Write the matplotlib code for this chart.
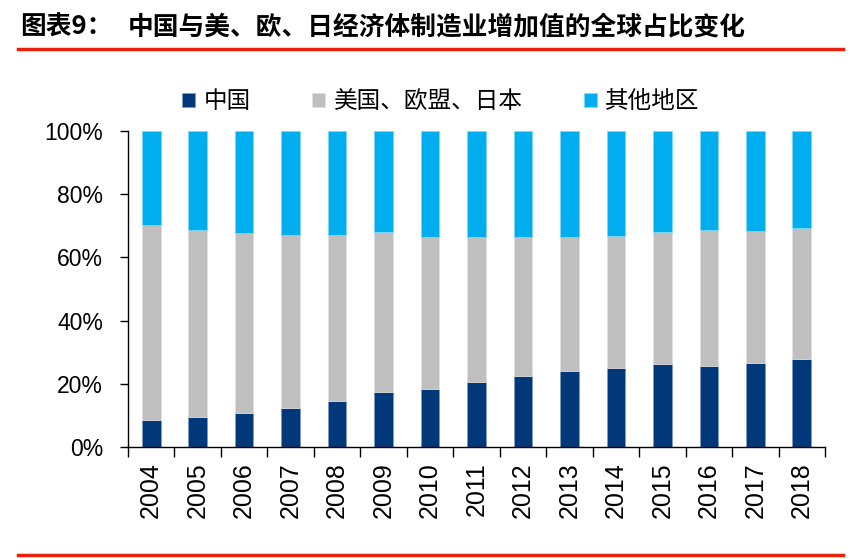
import numpy as np
import matplotlib
matplotlib.use("Agg")
import matplotlib.pyplot as plt
from matplotlib.lines import Line2D

plt.rcParams['font.family'] = ['Liberation Sans', 'Noto Sans CJK SC', 'DejaVu Sans']

# 数据（从图上估读，单位 %）
years = ["2004", "2005", "2006", "2007", "2008", "2009", "2010", "2011",
         "2012", "2013", "2014", "2015", "2016", "2017", "2018"]
china = [8.5, 9.6, 10.9, 12.2, 14.5, 17.3, 18.2, 20.7,
         22.5, 23.9, 25.1, 26.3, 25.7, 26.5, 27.7]
us_eu_jp_top = [70.3, 68.7, 67.6, 67.1, 67.1, 68.0, 66.4, 66.4,
                66.4, 66.6, 66.9, 68.0, 68.7, 68.2, 69.2]
us_eu_jp = [t - c for t, c in zip(us_eu_jp_top, china)]
others = [100 - t for t in us_eu_jp_top]
series_names = ["中国", "美国、欧盟、日本", "其他地区"]
colors = ["#00387A", "#BFBFBF", "#00AEEF"]

W, H = 853, 559
fig = plt.figure(figsize=(W / 100, H / 100), dpi=100)
ax = fig.add_axes([128 / W, 1 - 447 / H, (825 - 128) / W, (447 - 131) / H])

x = np.arange(len(years))
bw = 0.4
ax.bar(x, china, bw, color=colors[0], edgecolor="#7F9CC0", linewidth=0.5, label=series_names[0])
ax.bar(x, us_eu_jp, bw, bottom=china, color=colors[1], edgecolor="#E0E0E0", linewidth=0.5, label=series_names[1])
ax.bar(x, others, bw, bottom=us_eu_jp_top, color=colors[2], edgecolor="#7FD6F7", linewidth=0.5, label=series_names[2])

ax.set_xlim(-0.5, len(years) - 0.5)
ax.set_ylim(0, 100)
ax.set_yticks(np.arange(0, 101, 20))
ax.set_yticklabels([f"{v}%" for v in range(0, 101, 20)], fontsize=16.5)
ax.set_xticks(x)
ax.set_xticklabels(years, rotation=90, fontsize=18)
ax.set_xticks(np.arange(-0.5, len(years), 1), minor=True)
ax.tick_params(axis="x", which="major", length=0, pad=11)
ax.tick_params(axis="x", which="minor", length=7, width=1, direction="out")
ax.tick_params(axis="y", length=6, width=1, pad=12)
for s in ["top", "right"]:
    ax.spines[s].set_visible(False)
for s in ["left", "bottom"]:
    ax.spines[s].set_linewidth(1)

# 图例
h, l = ax.get_legend_handles_labels()
fig.legend(h, l, loc="center", bbox_to_anchor=(441 / W, 1 - 102 / H), ncol=3, frameon=False,
           prop={"family": "Noto Sans CJK SC", "size": 17}, handlelength=0.55, handleheight=0.55,
           handletextpad=0.35, columnspacing=2.6)

# 标题与红线
fig.text(20 / W, 1 - 27 / H, "图表9：", fontsize=18.5, fontweight="bold",
         family=["Noto Sans CJK SC", "DejaVu Sans"], va="center", ha="left")
fig.text(128 / W, 1 - 27 / H, "中国与美、欧、日经济体制造业增加值的全球占比变化", fontsize=18.5,
         fontweight="bold", family=["Noto Sans CJK SC", "DejaVu Sans"], va="center", ha="left")
fig.add_artist(Line2D([18 / W, 843 / W], [1 - 49 / H, 1 - 49 / H], color="#E8210F", lw=2.5))
fig.add_artist(Line2D([18 / W, 843 / W], [1 - 555 / H, 1 - 555 / H], color="#E8210F", lw=2.5))

fig.savefig("out.png", dpi=100)
